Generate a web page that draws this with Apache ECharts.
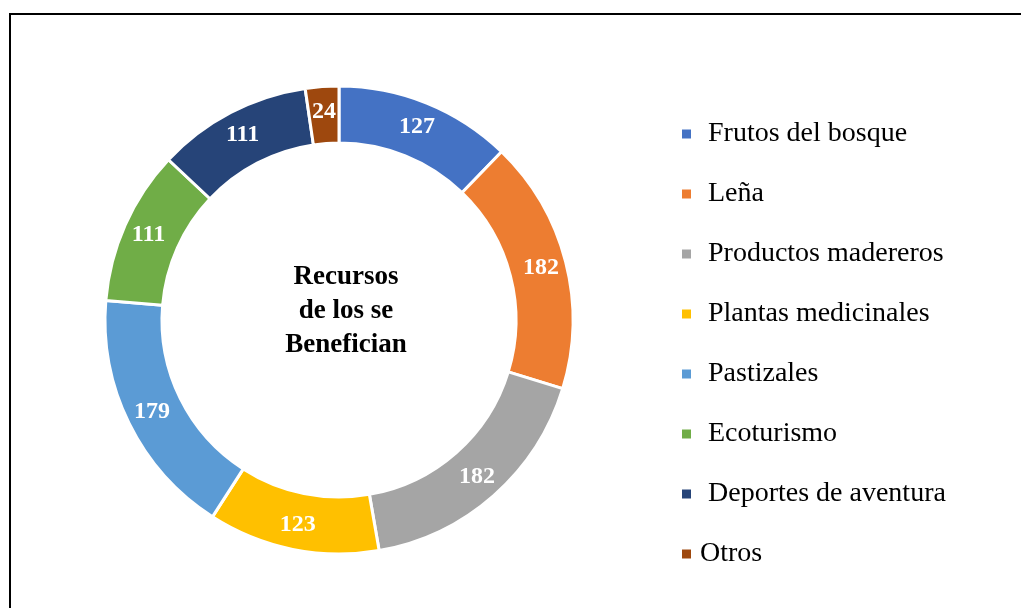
<!DOCTYPE html>
<html>
<head>
<meta charset="utf-8">
<script src="https://cdn.jsdelivr.net/npm/echarts@6/dist/echarts.min.js"></script>
<style>
  html, body { margin: 0; padding: 0; background: #fff; }
  #recursos { width: 1021px; height: 608px; }
</style>
</head>
<body>
<div id="recursos"></div>
<script>
// datos del grafico
var categorias = ['Frutos del bosque', 'Leña', 'Productos madereros', 'Plantas medicinales',
  'Pastizales', 'Ecoturismo', 'Deportes de aventura', 'Otros']
var valores = [127, 182, 182, 123, 179, 111, 111, 24]
var colores = ['#4472C4', '#ED7D31', '#A5A5A5', '#FFC000', '#5B9BD5', '#70AD47', '#264478', '#9E480E']
var tituloCentro = 'Recursos\nde los se\nBenefician'

var fuente = "'Liberation Serif', 'Times New Roman', serif"

var chart = echarts.init(document.getElementById('recursos'))

var datos = categorias.map(function (c, i) {
  return { name: c, value: valores[i] }
})

// "Otros" va mas pegado al marcador en el original
var leyenda = categorias.map(function (c) {
  if (c === 'Otros') {
    return { name: c, textStyle: { padding: [0, 0, 0, 3] } }
  }
  return { name: c }
})

var option = {
  backgroundColor: '#fff',
  color: colores,
  animation: false,
  legend: {
    orient: 'vertical',
    left: 675,
    top: 114,
    itemWidth: 11,
    itemHeight: 11,
    itemGap: 30,
    icon: 'rect',
    data: leyenda,
    textStyle: {
      fontFamily: fuente,
      fontSize: 28,
      color: '#000',
      lineHeight: 30,
      padding: [0, 0, 0, 11]
    }
  },
  graphic: [
    {
      type: 'rect',
      shape: { x: 10, y: 14, width: 1040, height: 640 },
      style: { fill: 'none', stroke: '#000', lineWidth: 2 },
      silent: true
    },
    {
      type: 'text',
      x: 346,
      y: 311,
      style: {
        text: tituloCentro,
        align: 'center',
        verticalAlign: 'middle',
        fontFamily: fuente,
        fontWeight: 'bold',
        fontSize: 27,
        lineHeight: 34,
        fill: '#000'
      }
    }
  ],
  series: [
    {
      type: 'pie',
      center: [339, 320],
      radius: [177, 234],
      startAngle: 90,
      clockwise: true,
      avoidLabelOverlap: false,
      itemStyle: {
        borderColor: '#fff',
        borderWidth: 3
      },
      label: {
        show: true,
        position: 'inside',
        formatter: '{c}',
        color: '#fff',
        fontFamily: fuente,
        fontWeight: 'bold',
        fontSize: 24
      },
      labelLine: { show: false },
      data: datos
    }
  ]
}

chart.setOption(option)
</script>
</body>
</html>
